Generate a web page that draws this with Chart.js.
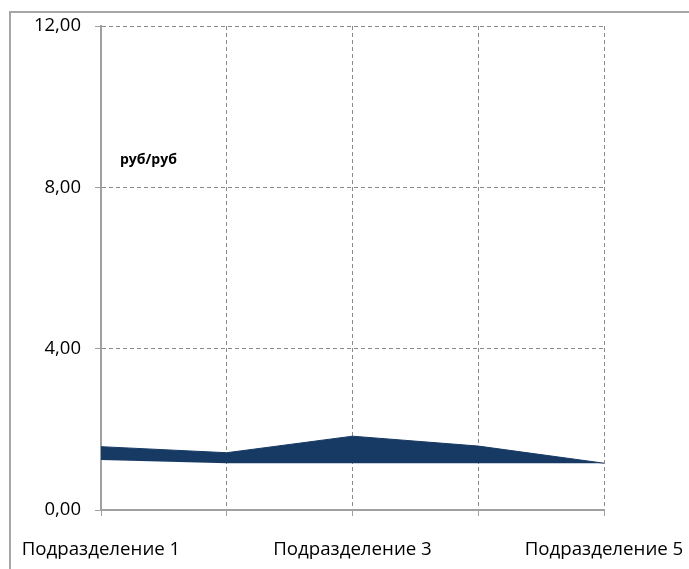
<!DOCTYPE html>
<html>
<head>
<meta charset="utf-8">
<script src="https://cdn.jsdelivr.net/npm/chart.js@4.4.1/dist/chart.umd.min.js"></script>
<style>
  html, body { margin: 0; padding: 0; background: #fff; overflow: hidden; }
  #wrap { position: absolute; left: 0; top: 0; width: 689px; height: 569px; }
  #frame { position: absolute; left: 9px; top: 11px; width: 720px; height: 620px;
           border-left: 2px solid #a6a6a6; border-top: 2px solid #a6a6a6; pointer-events: none; }
  canvas { position: absolute; left: 0; top: 0; }
</style>
</head>
<body>
<div id="wrap">
  <canvas id="chart" width="689" height="569"></canvas>
  <div id="frame"></div>
</div>
<script>
// Subdivisions on the horizontal axis
const categories = ['Подразделение 1', 'Подразделение 2', 'Подразделение 3', 'Подразделение 4', 'Подразделение 5'];
// Lower and upper boundaries of the band, руб/руб
const lowerValues = [1.24, 1.16, 1.16, 1.16, 1.16];
const upperValues = [1.57, 1.42, 1.83, 1.585, 1.16];
// Value axis ticks
const yTicks = [0, 4, 8, 12];
const unitLabel = 'руб/руб';

const gridColor = '#8a8a8a';
const axisColor = '#a0a0a0';
const fontFamily = "'Open Sans', 'DejaVu Sans', sans-serif";

// Unit caption placed inside the plot area
const unitLabelPlugin = {
  id: 'unitLabel',
  afterDraw(chart) {
    const { ctx, chartArea } = chart;
    ctx.save();
    ctx.font = "bold 14px " + fontFamily;
    ctx.fillStyle = '#000';
    ctx.textBaseline = 'middle';
    ctx.fillText(unitLabel, chartArea.left + 19, chartArea.top + 134);
    ctx.restore();
  }
};

new Chart(document.getElementById('chart'), {
  type: 'line',
  data: {
    labels: categories,
    datasets: [
      {
        label: 'lower',
        data: lowerValues,
        borderWidth: 0,
        borderColor: 'rgba(0,0,0,0)',
        pointRadius: 0,
        fill: false,
        tension: 0
      },
      {
        label: 'upper',
        data: upperValues,
        borderWidth: 1,
        borderColor: '#173a64',
        backgroundColor: '#173a64',
        pointRadius: 0,
        fill: '-1',
        tension: 0
      }
    ]
  },
  options: {
    responsive: false,
    animation: false,
    layout: { padding: { left: 0, right: 85, top: 26, bottom: 0 } },
    plugins: {
      legend: { display: false },
      tooltip: { enabled: false },
      title: { display: false }
    },
    scales: {
      x: {
        type: 'category',
        offset: false,
        afterFit(scale) {
          scale.height = 59;
          scale.paddingLeft = 0;
          scale.paddingRight = 0;
        },
        grid: {
          display: true,
          drawOnChartArea: true,
          color: gridColor,
          lineWidth: 1,
          tickLength: 6,
          tickColor: axisColor,
          tickBorderDash: []
        },
        border: { display: true, color: axisColor, width: 2, dash: [4, 3] },
        ticks: {
          autoSkip: false,
          maxRotation: 0,
          padding: 22,
          color: '#000',
          font: { family: fontFamily, size: 18.7 },
          callback: function (value, index) {
            return index % 2 === 0 ? this.getLabelForValue(value) : '';
          }
        }
      },
      y: {
        min: 0,
        max: 12,
        afterBuildTicks(scale) {
          scale.ticks = yTicks.map(v => ({ value: v }));
        },
        afterFit(scale) {
          scale.width = 101;
          scale.paddingTop = 0;
          scale.paddingBottom = 0;
        },
        grid: {
          color: gridColor,
          lineWidth: 1,
          tickLength: 6,
          tickColor: axisColor,
          tickBorderDash: []
        },
        border: { display: true, color: axisColor, width: 2, dash: [4, 3] },
        ticks: {
          padding: 14,
          color: '#000',
          font: { family: fontFamily, size: 18.5 },
          callback: v => Number(v).toFixed(2).replace('.', ',')
        }
      }
    }
  },
  plugins: [unitLabelPlugin]
});
</script>
</body>
</html>
